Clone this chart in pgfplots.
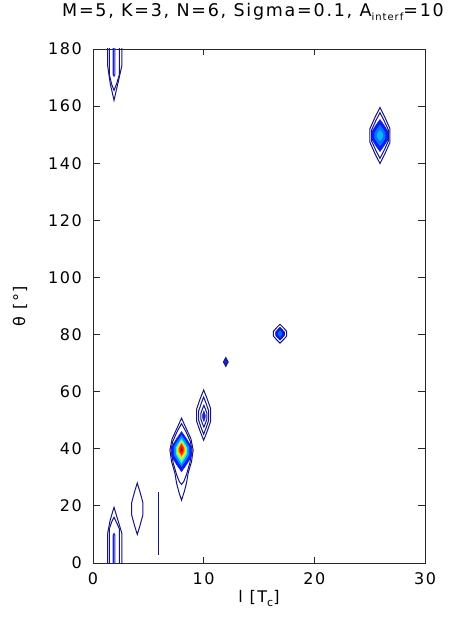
\documentclass[border=0pt]{standalone}
\usepackage{pgfplots}
\pgfplotsset{compat=1.18}
\usepackage{fontspec}
\setmainfont[LetterSpace=10]{DejaVu Sans}
\newfontfamily\titlefont[LetterSpace=10]{DejaVu Sans}
\definecolor{cnavy}{RGB}{20,20,130}
\definecolor{cblue}{RGB}{25,35,200}
\definecolor{j1}{RGB}{10,25,255}
\definecolor{j2}{RGB}{0,140,255}
\definecolor{j3}{RGB}{40,235,240}
\definecolor{j4}{RGB}{150,255,110}
\definecolor{j5}{RGB}{255,230,0}
\definecolor{j6}{RGB}{255,130,0}
\definecolor{j7}{RGB}{240,30,0}
\definecolor{j8}{RGB}{170,0,0}
\definecolor{axcol}{RGB}{40,40,40}
\begin{document}
\begin{tikzpicture}
\begin{axis}[
  scale only axis, width=332pt, height=514pt,
  xmin=0, xmax=30, ymin=0, ymax=180,
  xtick={0,10,20,30}, ytick={0,20,...,180},
  tick align=inside, major tick length=6.5pt,
  axis line style={line width=0.8pt, draw=axcol},
  every tick/.style={line width=0.8pt, axcol},
  font=\fontsize{16}{19}\selectfont,
  /pgf/number format/assume math mode=true,
  xticklabel style={anchor=north, inner sep=0pt, yshift=-9pt},
  yticklabel style={anchor=east, inner sep=0pt, xshift=-11pt},
  xlabel={l [T\raisebox{-4pt}{\fontsize{11}{11}\selectfont c}]},
  ylabel={θ [°]},
  title={\titlefont\fontsize{17.5}{20}\selectfont M=5, K=3, N=6, Sigma=0.1, A\raisebox{-4pt}{\fontsize{10}{10}\selectfont interf}=10},
  xlabel style={at={(axis description cs:0.5,-0.0778)}, anchor=base},
  ylabel style={at={(axis description cs:-0.2048,0.5)}, anchor=base},
  title style={at={(axis description cs:0.4819,1.0525)}, anchor=base},
]
\coordinate (bl) at (rel axis cs:0,0);
\coordinate (tr) at (rel axis cs:1,1);
% top-left (x~2, y 162-180)
\addplot[draw=cnavy, line width=1pt] coordinates {(1.33,181)(1.33,174)(1.55,168)(1.9,162)(2.25,168)(2.6,174)(2.6,181)};
\addplot[draw=cnavy, line width=1pt] coordinates {(1.48,181)(1.48,171)(1.7,167.5)(1.9,165.5)(2.15,168)(2.38,171)(2.38,181)};
\addplot[draw=cblue, line width=1.1pt] coordinates {(1.83,181)(1.83,171)(1.9,170.5)(1.97,171)(1.97,181)};
% bottom-left (x~2, y 0-20)
\addplot[draw=cnavy, line width=1pt] coordinates {(1.33,-1)(1.33,10.5)(1.55,15)(1.9,19.5)(2.25,15)(2.6,10.5)(2.6,-1)};
\addplot[draw=cnavy, line width=1pt] coordinates {(1.48,-1)(1.48,12)(1.7,14.5)(1.9,16)(2.15,14)(2.38,12)(2.38,-1)};
\addplot[draw=cblue, line width=1.1pt] coordinates {(1.83,-1)(1.83,9.8)(1.9,10.3)(1.97,9.8)(1.97,-1)};
% x~4, y~19
\addplot[draw=cnavy, line width=1pt] coordinates {(4,28)(4.25,24.85)(4.5,21.25)(4.5,16.75)(4.25,13.15)(4,10)(3.75,13.15)(3.5,16.75)(3.5,21.25)(3.75,24.85)} -- cycle;
% x~6 line
\addplot[draw=cnavy, line width=1pt] coordinates {(5.96,2.8)(5.96,25)};
% x~10, y~52
\addplot[draw=cnavy, line width=1pt] coordinates {(10,60.6)(10.315,57.52)(10.63,54)(10.63,49.6)(10.315,46.08)(10,43)(9.685,46.08)(9.37,49.6)(9.37,54)(9.685,57.52)} -- cycle;
\addplot[draw=cnavy, line width=1pt] coordinates {(10,58.1)(10.225,55.83)(10.45,53.23)(10.45,49.98)(10.225,47.38)(10,45.1)(9.775,47.38)(9.55,49.98)(9.55,53.23)(9.775,55.83)} -- cycle;
\addplot[draw=cnavy, line width=1pt] coordinates {(10.02,55.2)(10.16,53.87)(10.3,52.35)(10.3,50.45)(10.16,48.93)(10.02,47.6)(9.88,48.93)(9.74,50.45)(9.74,52.35)(9.88,53.87)} -- cycle;
\addplot[draw=cblue, fill=cblue, line width=0.6pt] coordinates {(10.02,53.2)(10.08,52.57)(10.14,51.85)(10.14,50.95)(10.08,50.23)(10.02,49.6)(9.96,50.23)(9.9,50.95)(9.9,51.85)(9.96,52.57)} -- cycle;
% main peak x~8, y~40
\addplot[draw=cnavy, line width=1pt] coordinates {(8.0,50.7)(8.4,47.3)(8.85,43.5)(9.05,39.5)(8.9,35.5)(8.6,31.5)(8.45,28)(8.25,25)(8.0,22)(7.75,25)(7.55,28)(7.4,31.5)(7.1,35.5)(6.95,39.5)(7.15,43.5)(7.6,47.3)} -- cycle;
\addplot[draw=cnavy, line width=1pt] coordinates {(8.0,48.8)(8.4,46)(8.8,42.5)(8.95,39.5)(8.75,35)(8.45,31)(8.2,28.5)(8.0,27.5)(7.8,28.5)(7.55,31)(7.25,35)(7.05,39.5)(7.2,42.5)(7.6,46)} -- cycle;
\addplot[fill=j1, draw=cblue, line width=0.6pt] coordinates {(8,46)(8.44,43.55)(8.88,40.75)(8.88,37.25)(8.44,34.45)(8,32)(7.56,34.45)(7.12,37.25)(7.12,40.75)(7.56,43.55)} -- cycle;
\addplot[fill=j2, draw=none] coordinates {(8,44.8)(8.35,42.86)(8.7,40.64)(8.7,37.86)(8.35,35.64)(8,33.7)(7.65,35.64)(7.3,37.86)(7.3,40.64)(7.65,42.86)} -- cycle;
\addplot[fill=j3, draw=none] coordinates {(8,43.7)(8.26,42.14)(8.52,40.36)(8.52,38.14)(8.26,36.36)(8,34.8)(7.74,36.36)(7.48,38.14)(7.48,40.36)(7.74,42.14)} -- cycle;
\addplot[fill=j4, draw=none] coordinates {(8,43)(8.225,41.74)(8.45,40.3)(8.45,38.5)(8.225,37.06)(8,35.8)(7.775,37.06)(7.55,38.5)(7.55,40.3)(7.775,41.74)} -- cycle;
\addplot[fill=j5, draw=none] coordinates {(8,42.5)(8.19,41.47)(8.38,40.29)(8.38,38.81)(8.19,37.63)(8,36.6)(7.81,37.63)(7.62,38.81)(7.62,40.29)(7.81,41.47)} -- cycle;
\addplot[fill=j6, draw=none] coordinates {(8,42.1)(8.14,41.24)(8.28,40.26)(8.28,39.04)(8.14,38.06)(8,37.2)(7.86,38.06)(7.72,39.04)(7.72,40.26)(7.86,41.24)} -- cycle;
\addplot[fill=j7, draw=none] coordinates {(8,41.7)(8.1,41.02)(8.2,40.24)(8.2,39.26)(8.1,38.48)(8,37.8)(7.9,38.48)(7.8,39.26)(7.8,40.24)(7.9,41.02)} -- cycle;
\addplot[fill=j8, draw=none] coordinates {(8,40.5)(8.08,39.75)(8,39.0)(7.92,39.75)} -- cycle;
% x~12, y~70
\addplot[draw=cnavy, fill=cblue, line width=0.8pt] coordinates {(12,72)(12.22,70.4)(12,68.8)(11.78,70.4)} -- cycle;
% x~17, y~80
\addplot[draw=cnavy, line width=1pt] coordinates {(16.9,83.6)(17.2,82.45)(17.5,81.13)(17.5,79.48)(17.2,78.15)(16.9,77)(16.6,78.15)(16.3,79.48)(16.3,81.13)(16.6,82.45)} -- cycle;
\addplot[draw=cnavy, fill=j1, line width=0.7pt] coordinates {(16.9,82.5)(17.1,81.73)(17.3,80.85)(17.3,79.75)(17.1,78.87)(16.9,78.1)(16.7,78.87)(16.5,79.75)(16.5,80.85)(16.7,81.73)} -- cycle;
\addplot[fill=j2!70!j1, draw=none] coordinates {(16.9,81.5)(17.0,81.08)(17.1,80.6)(17.1,80.0)(17.0,79.52)(16.9,79.1)(16.8,79.52)(16.7,80.0)(16.7,80.6)(16.8,81.08)} -- cycle;
% x~26, y~150
\addplot[draw=cnavy, line width=1pt] coordinates {(25.93,159.5)(26.38,156.07)(26.83,152.15)(26.83,147.25)(26.38,143.33)(25.93,139.9)(25.48,143.33)(25.03,147.25)(25.03,152.15)(25.48,156.07)} -- cycle;
\addplot[draw=cnavy, line width=1pt] coordinates {(25.93,157.7)(26.305,154.9)(26.68,151.7)(26.68,147.7)(26.305,144.5)(25.93,141.7)(25.555,144.5)(25.18,147.7)(25.18,151.7)(25.555,154.9)} -- cycle;
\addplot[fill=j1, draw=cblue, line width=0.6pt] coordinates {(25.93,155.3)(26.29,153.34)(26.65,151.1)(26.65,148.3)(26.29,146.06)(25.93,144.1)(25.57,146.06)(25.21,148.3)(25.21,151.1)(25.57,153.34)} -- cycle;
\addplot[fill=j2!80!j1, draw=none] coordinates {(25.93,153.5)(26.18,152.17)(26.43,150.65)(26.43,148.75)(26.18,147.23)(25.93,145.9)(25.68,147.23)(25.43,148.75)(25.43,150.65)(25.68,152.17)} -- cycle;
\addplot[fill=j2!60!j3, draw=none] coordinates {(25.93,151.7)(26.07,151.0)(26.21,150.2)(26.21,149.2)(26.07,148.4)(25.93,147.7)(25.79,148.4)(25.65,149.2)(25.65,150.2)(25.79,151.0)} -- cycle;
\end{axis}
\pgfresetboundingbox
\path[use as bounding box] ([shift={(-93pt,-58pt)}]bl) rectangle ([shift={(38pt,49pt)}]tr);
\end{tikzpicture}
\end{document}
